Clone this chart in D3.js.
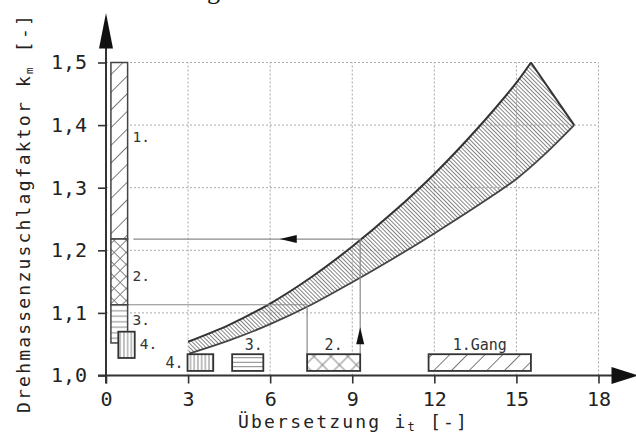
<!DOCTYPE html>
<html>
<head>
<meta charset="utf-8">
<script src="https://cdn.jsdelivr.net/npm/d3@7"></script>
<style>
  html, body { margin: 0; padding: 0; background: #fff; }
  svg { display: block; font-family: "DejaVu Sans Mono", monospace; }
</style>
</head>
<body>
<svg id="chart" width="636" height="435"></svg>
<script>
// Gear ranges: k_m span per gear (left column) and ratio span per gear (bottom boxes)
const gearNames = ["1.", "2.", "3.", "4."];
const boxLabels = ["1.Gang", "2.", "3.", "4."];
const kmLow  = [1.218, 1.113, 1.052, 1.028];
const kmHigh = [1.500, 1.218, 1.113, 1.070];
const itLow  = [11.79, 7.35, 4.61, 2.98];
const itHigh = [15.53, 9.29, 5.75, 3.92];

// Scatter band of k_m over the overall ratio i_t
const upperIt = [3.0, 4.5, 6.0, 7.5, 9.0, 10.5, 12.0, 13.5, 15.0, 15.53];
const upperKm = [1.054, 1.081, 1.115, 1.157, 1.206, 1.261, 1.322, 1.391, 1.468, 1.500];
const lowerIt = [3.04, 4.5, 6.0, 7.5, 9.0, 10.5, 12.0, 13.5, 15.0, 16.0, 17.11];
const lowerKm = [1.035, 1.056, 1.082, 1.113, 1.149, 1.187, 1.227, 1.269, 1.314, 1.352, 1.400];

const xTicks = [0, 3, 6, 9, 12, 15, 18];
const yTicks = [1.0, 1.1, 1.2, 1.3, 1.4, 1.5];

// Layout
const svg = d3.select("#chart");
const x = d3.scaleLinear().domain([0, 18]).range([106, 598.5]);
const y = d3.scaleLinear().domain([1.0, 1.5]).range([375.5, 62.5]);
const dark = "#333", hatchGrey = "#777", refGrey = "#8a8a8a";
const barX = [0.18, 0.79];        // left gear column, in i_t units
const bar4X = [0.45, 1.05];       // offset box of gear 4
const boxKm = [1.0073, 1.034];    // height of the ratio boxes on the abscissa

// Hatch patterns
const defs = svg.append("defs");
function hatch(id, size, angle, width, color, opts = {}) {
  const p = defs.append("pattern")
    .attr("id", id).attr("patternUnits", "userSpaceOnUse")
    .attr("width", size).attr("height", size)
    .attr("patternTransform", `rotate(${angle})`);
  if (opts.bg) p.append("rect").attr("width", size).attr("height", size).attr("fill", opts.bg);
  p.append("line").attr("x1", size / 2).attr("x2", size / 2).attr("y1", 0).attr("y2", size)
    .attr("stroke", color).attr("stroke-width", width);
  if (opts.cross)
    p.append("line").attr("x1", 0).attr("x2", size).attr("y1", size / 2).attr("y2", size / 2)
      .attr("stroke", color).attr("stroke-width", width);
}
hatch("bandHatch", 2.9, -45, 0.9, "#7a7a7a");
hatch("diag", 12.5, 45, 1, hatchGrey, { bg: "#fff" });
hatch("crossBar", 8.5, 45, 0.9, hatchGrey, { bg: "#fff", cross: true });
hatch("crossBox", 12, 45, 0.9, hatchGrey, { bg: "#fff", cross: true });
hatch("horiz", 5.5, 90, 0.9, hatchGrey, { bg: "#fff" });
hatch("horizBox", 4.5, 90, 0.9, hatchGrey, { bg: "#fff" });
hatch("vert", 3.7, 0, 0.9, hatchGrey, { bg: "#fff" });

// Dotted grid
const grid = svg.append("g").attr("stroke", "#a8a8a8").attr("stroke-width", 1)
  .attr("stroke-dasharray", "2,2");
xTicks.filter(d => d > 0).forEach(d => grid.append("line")
  .attr("x1", x(d)).attr("x2", x(d)).attr("y1", y(1.0)).attr("y2", y(1.5)));
yTicks.filter(d => d > 1.0).forEach(d => grid.append("line")
  .attr("x1", x(0)).attr("x2", x(18)).attr("y1", y(d)).attr("y2", y(d)));

// Clipped caption letter above the plot
svg.append("text").attr("x", 207).attr("y", -1)
  .attr("font-family", "'Liberation Serif', serif").attr("font-size", 26).attr("fill", "#111").text("g");

// Band
const upper = upperIt.map((d, i) => [d, upperKm[i]]);
const lower = lowerIt.map((d, i) => [d, lowerKm[i]]);
const curve = d3.line().x(d => x(d[0])).y(d => y(d[1])).curve(d3.curveCatmullRom.alpha(0.5));
const lowerRev = lower.slice().reverse();
const bandPath = curve(upper) + "L" + curve(lowerRev).slice(1) + "Z";
svg.append("path").attr("d", bandPath).attr("fill", "url(#bandHatch)").attr("stroke", "none");
svg.append("path").attr("d", curve(upper)).attr("fill", "none").attr("stroke", dark).attr("stroke-width", 2);
svg.append("path").attr("d", curve(lower)).attr("fill", "none").attr("stroke", "#444").attr("stroke-width", 1.8);
svg.append("line")
  .attr("x1", x(upperIt[upperIt.length - 1])).attr("y1", y(upperKm[upperKm.length - 1]))
  .attr("x2", x(lowerIt[lowerIt.length - 1])).attr("y2", y(lowerKm[lowerKm.length - 1]))
  .attr("stroke", dark).attr("stroke-width", 2);

// Reading example for gear 2
const ref = svg.append("g").attr("stroke", refGrey).attr("stroke-width", 1.2).attr("fill", "none");
ref.append("line").attr("x1", x(1.0)).attr("x2", x(itHigh[1]))
  .attr("y1", y(kmHigh[1])).attr("y2", y(kmHigh[1]));
ref.append("line").attr("x1", x(itHigh[1])).attr("x2", x(itHigh[1]))
  .attr("y1", y(kmHigh[1])).attr("y2", y(boxKm[1]));
ref.append("line").attr("x1", x(barX[1])).attr("x2", x(itLow[1]))
  .attr("y1", y(kmLow[1])).attr("y2", y(kmLow[1]));
ref.append("line").attr("x1", x(itLow[1])).attr("x2", x(itLow[1]))
  .attr("y1", y(kmLow[1])).attr("y2", y(boxKm[1]));
// arrow heads
{
  const hy = y(kmHigh[1]), tipX = x(6.35);
  svg.append("path").attr("fill", "#111")
    .attr("d", `M${tipX},${hy}L${tipX + 17},${hy - 4}L${tipX + 17},${hy + 4}Z`);
  const vx = x(itHigh[1]), tipY = y(1.077);
  svg.append("path").attr("fill", "#111")
    .attr("d", `M${vx},${tipY}L${vx - 4},${tipY + 17}L${vx + 4},${tipY + 17}Z`);
}

// Left column of gear k_m ranges
const barFills = ["url(#diag)", "url(#crossBar)", "url(#horiz)"];
[0, 1, 2].forEach(i => {
  svg.append("rect")
    .attr("x", x(barX[0])).attr("width", x(barX[1]) - x(barX[0]))
    .attr("y", y(kmHigh[i])).attr("height", y(kmLow[i]) - y(kmHigh[i]))
    .attr("fill", barFills[i]).attr("stroke", "#444").attr("stroke-width", 1.5);
});
svg.append("rect")
  .attr("x", x(bar4X[0])).attr("width", x(bar4X[1]) - x(bar4X[0]))
  .attr("y", y(kmHigh[3])).attr("height", y(kmLow[3]) - y(kmHigh[3]))
  .attr("fill", "url(#vert)").attr("stroke", dark).attr("stroke-width", 1.8);

const leftDy = [-14, 4, -4, -1];
gearNames.forEach((g, i) => {
  const lx = i === 3 ? x(bar4X[1]) + 5 : x(barX[1]) + 5;
  svg.append("text").attr("x", lx).attr("y", (y(kmHigh[i]) + y(kmLow[i])) / 2 + leftDy[i])
    .attr("dy", "0.35em").attr("font-size", 14.5).attr("fill", "#333").text(g);
});

// Ratio boxes on the abscissa
const boxFills = ["url(#diag)", "url(#crossBox)", "url(#horizBox)", "url(#vert)"];
boxLabels.forEach((lab, i) => {
  svg.append("rect")
    .attr("x", x(itLow[i])).attr("width", x(itHigh[i]) - x(itLow[i]))
    .attr("y", y(boxKm[1])).attr("height", y(boxKm[0]) - y(boxKm[1]))
    .attr("fill", boxFills[i]).attr("stroke", dark).attr("stroke-width", 1.8);
  if (i < 3) {
    svg.append("text").attr("x", (x(itLow[i]) + x(itHigh[i])) / 2 + (i === 2 ? 6 : 0))
      .attr("y", y(boxKm[1]) - 4).attr("text-anchor", "middle")
      .attr("font-size", 15).attr("fill", "#333").text(lab);
  } else {
    svg.append("text").attr("x", x(itLow[i]) - 4)
      .attr("y", (y(boxKm[0]) + y(boxKm[1])) / 2).attr("dy", "0.35em")
      .attr("text-anchor", "end").attr("font-size", 15).attr("fill", "#333").text(lab);
  }
});

// Axes
const gx = svg.append("g").attr("transform", `translate(0,${y(1.0)})`)
  .call(d3.axisBottom(x).tickValues(xTicks).tickSize(8).tickPadding(8).tickFormat(d3.format("d")));
const gy = svg.append("g").attr("transform", `translate(${x(0)},0)`)
  .call(d3.axisLeft(y).tickValues(yTicks).tickSize(8).tickPadding(11)
    .tickFormat(d => d.toFixed(1).replace(".", ",")));
[gx, gy].forEach(g => {
  g.select(".domain").remove();
  g.selectAll(".tick line").attr("stroke", dark).attr("stroke-width", 1.6);
  g.selectAll(".tick text").attr("font-family", "'DejaVu Sans Mono', monospace")
    .attr("font-size", 20).attr("fill", "#222");
});

const x0 = x(0), y0 = y(1.0);
svg.append("line").attr("x1", x0).attr("x2", x0).attr("y1", y0 + 8).attr("y2", 46)
  .attr("stroke", dark).attr("stroke-width", 2);
svg.append("line").attr("x1", x0 - 8).attr("x2", 614).attr("y1", y0).attr("y2", y0)
  .attr("stroke", dark).attr("stroke-width", 2);
svg.append("path").attr("fill", "#111")
  .attr("d", `M${x0},13L${x0 - 7},48.5L${x0 + 7},48.5Z`);
svg.append("path").attr("fill", "#111")
  .attr("d", `M638,${y0}L611.5,${y0 - 8.5}L611.5,${y0 + 8.5}Z`);

// Axis titles
const xt = svg.append("text").attr("x", 238).attr("y", 428)
  .attr("font-size", 18).attr("letter-spacing", 2.2).attr("fill", "#222");
xt.append("tspan").text("Übersetzung i");
xt.append("tspan").attr("font-size", 12).attr("dy", 3).text("t");
xt.append("tspan").attr("dy", -3).text(" [-]");

const yt = svg.append("text").attr("transform", "translate(30,213) rotate(-90)")
  .attr("text-anchor", "middle").attr("font-size", 18).attr("letter-spacing", 2.2).attr("fill", "#222");
yt.append("tspan").text("Drehmassenzuschlagfaktor k");
yt.append("tspan").attr("font-size", 11).attr("dy", 3).text("m");
yt.append("tspan").attr("dy", -3).text(" [-]");
</script>
</body>
</html>
